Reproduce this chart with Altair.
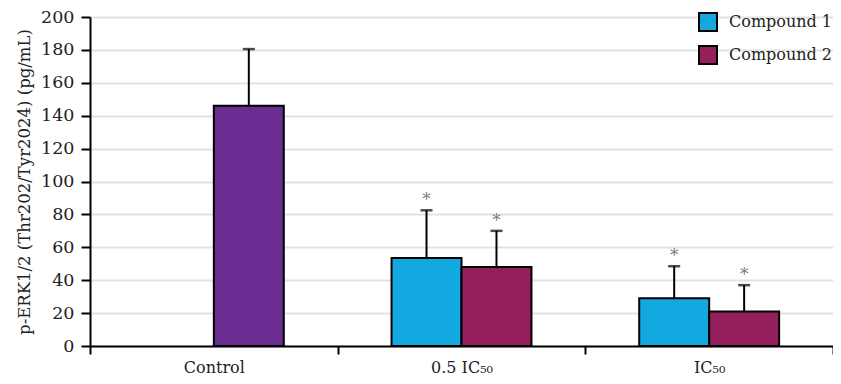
import altair as alt
import pandas as pd

categories = ["Control", "0.5 IC₅₀", "0.5 IC₅₀", "IC₅₀", "IC₅₀"]
slots = ["Compound 2", "Compound 1", "Compound 2", "Compound 1", "Compound 2"]
series = ["Control", "Compound 1", "Compound 2", "Compound 1", "Compound 2"]
means = [146, 53.5, 48, 29, 21]
upper = [180.5, 82.5, 70, 48.5, 37]
stars = ["", "*", "*", "*", "*"]

group_order = ["Control", "0.5 IC₅₀", "IC₅₀"]
slot_order = ["Compound 1", "Compound 2"]
color_domain = ["Compound 1", "Compound 2", "Control"]
color_range = ["#14a8e0", "#951f5c", "#6a2c90"]
y_ticks = [0, 20, 40, 60, 80, 100, 120, 140, 160, 180, 200]

df = pd.DataFrame({
    "category": categories,
    "slot": slots,
    "series": series,
    "mean": means,
    "upper": upper,
    "star": stars,
})

FONT = "DejaVu Serif"

x_enc = alt.X(
    "category:N",
    sort=group_order,
    scale=alt.Scale(domain=group_order, paddingInner=0, paddingOuter=0),
    axis=alt.Axis(
        title=None, labelAngle=0, tickBand="extent", tickSize=8, tickWidth=2,
        tickColor="black", domainColor="black", domainWidth=2,
        labelFont=FONT, labelFontSize=16, labelColor="#222222", labelPadding=5,
        grid=False,
    ),
)
xo_enc = alt.XOffset(
    "slot:N", sort=slot_order,
    scale=alt.Scale(domain=slot_order, paddingInner=0, paddingOuter=0.77),
)

y_scale = alt.Scale(domain=[0, 200], nice=False)
y_axis = alt.Axis(
    title="p-ERK1/2 (Thr202/Tyr2024) (pg/mL)",
    values=y_ticks, labelOverlap=False,
    tickSize=9, tickWidth=2, tickColor="black",
    domainColor="black", domainWidth=2,
    gridColor="#e2e2e2", gridWidth=2,
    labelFont=FONT, labelFontSize=17.5, labelColor="#222222", labelPadding=7,
    titleFont=FONT, titleFontSize=16.5, titleFontWeight="normal",
    titleColor="#222222", titlePadding=8,
)

bars = alt.Chart(df).mark_bar(stroke="black", strokeWidth=2).encode(
    x=x_enc,
    xOffset=xo_enc,
    y=alt.Y("mean:Q", scale=y_scale, axis=y_axis),
    color=alt.Color(
        "series:N",
        scale=alt.Scale(domain=color_domain, range=color_range),
        legend=alt.Legend(
            values=["Compound 1", "Compound 2"], title=None,
            orient="none", legendX=608, legendY=-5,
            symbolType="square", symbolSize=324,
            symbolStrokeColor="black", symbolStrokeWidth=2,
            labelFont=FONT, labelFontSize=16, labelColor="#222222",
            labelOffset=11, rowPadding=7,
        ),
    ),
)

err = alt.Chart(df).mark_rule(color="black", strokeWidth=2).encode(
    x=x_enc, xOffset=xo_enc,
    y=alt.Y("mean:Q", scale=y_scale, axis=y_axis),
    y2="upper:Q",
)

caps = alt.Chart(df).mark_tick(color="black", thickness=2.5, size=12, orient="horizontal").encode(
    x=x_enc, xOffset=xo_enc,
    y=alt.Y("upper:Q", scale=y_scale, axis=y_axis),
)

star_text = alt.Chart(df).mark_text(
    font=FONT, fontSize=17, color="#7a7a7a", baseline="middle", dy=-10
).encode(
    x=x_enc, xOffset=xo_enc,
    y=alt.Y("upper:Q", scale=y_scale, axis=y_axis),
    text="star:N",
)

chart = alt.layer(bars, err, caps, star_text).properties(
    width=743, height=329,
    autosize=alt.AutoSizeParams(type="none"),
    padding={"left": 82, "top": 9, "right": 0, "bottom": 30},
).configure_view(stroke=None).configure(background="white")

chart.save("out.html", embed_options={"renderer": "svg", "actions": False})
